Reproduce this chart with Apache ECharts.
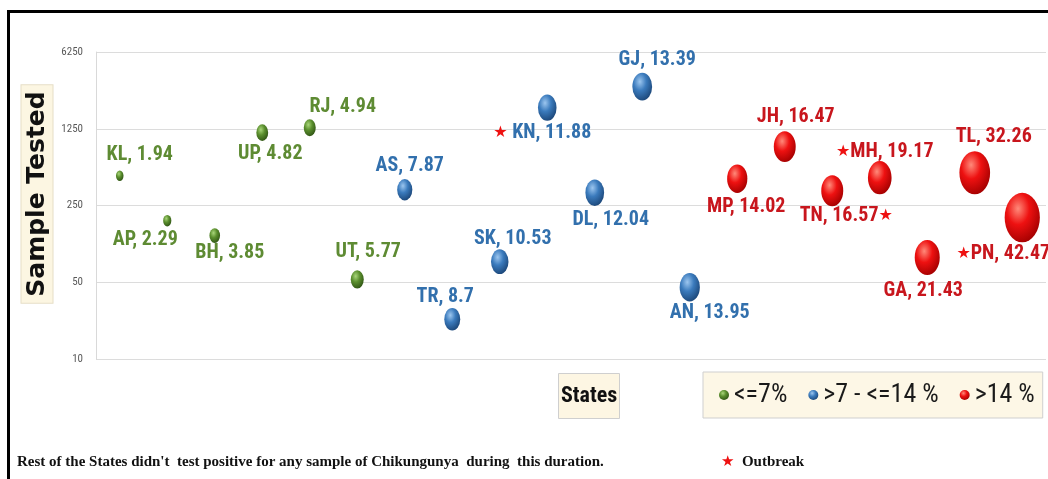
<!DOCTYPE html>
<html><head><meta charset="utf-8">
<script src="https://cdn.jsdelivr.net/npm/echarts@6/dist/echarts.min.js"></script>
<style>html,body{margin:0;padding:0;background:#fff}#c{width:1048px;height:479px}</style>
</head><body><div id="c"></div>
<script>
// ---- data ----
const states = ['KL','AP','BH','UP','RJ','UT','AS','TR','SK','KN','DL','GJ','AN','MP','JH','TN','MH','GA','TL','PN'];
const samplesTested = [467,182,133,1151,1277,53,348,23,77,1944,327,3020,45,439,858,341,448,84,497,194];
const positivity = [1.94,2.29,3.85,4.82,4.94,5.77,7.87,8.7,10.53,11.88,12.04,13.39,13.95,14.02,16.47,16.57,19.17,21.43,32.26,42.47];
const outbreakStates = ['KN','MH','TN','PN'];
const yTicks = [10,50,250,1250,6250];
const groupNames = ['<=7%', '>7 - <=14 %', '>14 %'];

// ---- layout / style ----
const labelOffsets = {
  KL:[20,-21], AP:[-22,19], BH:[15,17], UP:[8,21], RJ:[33,-21], UT:[11,-27], AS:[5,-24],
  TR:[-7,-22], SK:[13,-23], KN:[-5,25], DL:[16,27], GJ:[15,-27], AN:[20,26], MP:[9,28],
  JH:[11,-30], TN:[14,25], MH:[5,-26], GA:[-4,33], TL:[19,-36], PN:[-19,36]
};
const starAfter = {TN:true};
const starSpace = {KN:true};
const NARROW = "'Roboto Condensed','Liberation Sans Narrow',Roboto,sans-serif";
const SERIF = "'Liberation Serif','DejaVu Serif',serif";
const ELLIPSE = 'path://M50,0 A50,50 0 1,1 50,100 A50,50 0 1,1 50,0 Z';
const groupStyle = [
  {text:'#5e8b33', light:'#a9d67a', mid:'#5b8f2e', dark:'#2f5414'},
  {text:'#3270ad', light:'#9cc6ef', mid:'#3b7bbd', dark:'#1b4678'},
  {text:'#c8161d', light:'#ff8a7a', mid:'#ee1111', dark:'#a30000'}
];
function grad(g){
  return {type:'radial', x:0.38, y:0.32, r:0.72, colorStops:[
    {offset:0, color:g.light},{offset:0.45, color:g.mid},{offset:1, color:g.dark}]};
}
function groupOf(p){ return p <= 7 ? 0 : (p <= 14 ? 1 : 2); }

const seriesData = [[],[],[]];
states.forEach((s,i)=>{
  seriesData[groupOf(positivity[i])].push({
    name:s, value:[s, samplesTested[i], positivity[i]],
    label:{offset: labelOffsets[s]}
  });
});

const series = groupNames.map((gn,gi)=>({
  name: gn,
  type: 'scatter',
  symbol: ELLIPSE,
  symbolSize: v => [5.4*Math.sqrt(v[2]), 7.6*Math.sqrt(v[2])],
  itemStyle: {color: grad(groupStyle[gi]), opacity:1},
  data: seriesData[gi],
  label: {
    show: true, position: 'inside', align:'center', verticalAlign:'middle',
    color: groupStyle[gi].text, fontFamily: NARROW, fontWeight:'bold', fontSize: 20,
    formatter: p => {
      const s = p.name, txt = s + ', ' + p.value[2];
      if (outbreakStates.indexOf(s) < 0) return txt;
      if (starAfter[s]) return txt + '{st|★}';
      return '{st|★}' + (starSpace[s] ? ' ' : '') + txt;
    },
    rich: {st:{fontFamily:'DejaVu Sans', color:'#ee1111', fontSize:16}}
  },
  emphasis:{disabled:true}
}));

const chart = echarts.init(document.getElementById('c'), null, {renderer:'canvas'});
chart.setOption({
  animation:false,
  backgroundColor:'#fff',
  grid:{left:96, right:2, top:52, bottom:120},
  xAxis:{
    type:'category', data: states, boundaryGap:true,
    axisLine:{show:false}, axisTick:{show:false}, axisLabel:{show:false}, splitLine:{show:false}
  },
  yAxis:{
    type:'log', logBase:5, min:10, max:6250,
    axisLine:{show:true, lineStyle:{color:'#d9d9d9'}},
    axisTick:{show:false, customValues: yTicks},
    axisLabel:{customValues: yTicks, formatter: v => String(v), color:'#595959', fontFamily:NARROW, fontSize:11, margin:13},
    splitLine:{show:true, lineStyle:{color:'#dcdcdc'}}
  },
  legend:{
    left:703, top:372, padding:[10,8,10,16], itemGap:21, itemWidth:10, itemHeight:15,
    icon: ELLIPSE,
    backgroundColor:'#fdf7e6', borderColor:'#cfcfcf', borderWidth:1,
    textStyle:{fontFamily:NARROW, fontSize:26, lineHeight:26, color:'#1a1a1a'},
    data: groupNames, selectedMode:false
  },
  title:[
    {text:'States', left:558, top:373, padding:[12,3],
      backgroundColor:'#fdf6e3', borderColor:'#cfcfcf', borderWidth:1,
      textStyle:{fontFamily:NARROW, fontWeight:'bold', fontSize:22, lineHeight:22, color:'#111'}},
    {text:"Rest of the States didn't  test positive for any sample of Chikungunya  during  this duration.",
      left:17, top:455, padding:0,
      textStyle:{fontFamily:SERIF, fontWeight:'bold', fontSize:15, color:'#111'}},
    {text:'{st|★}  Outbreak', left:721, top:455, padding:0,
      textStyle:{fontFamily:SERIF, fontWeight:'bold', fontSize:15, color:'#111',
        rich:{st:{fontFamily:'DejaVu Sans', color:'#ee1111', fontSize:15}}}}
  ],
  graphic:[
    {type:'text', silent:true, x:37, y:194, rotation:Math.PI/2,
      style:{text:'Sample Tested', fontFamily:'DejaVu Sans', fontWeight:'bold', fontSize:25,
        fill:'#111', align:'center', verticalAlign:'middle',
        backgroundColor:'#fcf6e2', borderColor:'#e6dec6', borderWidth:1, padding:[3,6,3,6]}},
    {type:'rect', silent:true, z:100,
      shape:{x:8.5, y:11.5, width:1200, height:800},
      style:{fill:'none', stroke:'#000', lineWidth:3}}
  ],
  series: series
});
</script>
</body></html>
